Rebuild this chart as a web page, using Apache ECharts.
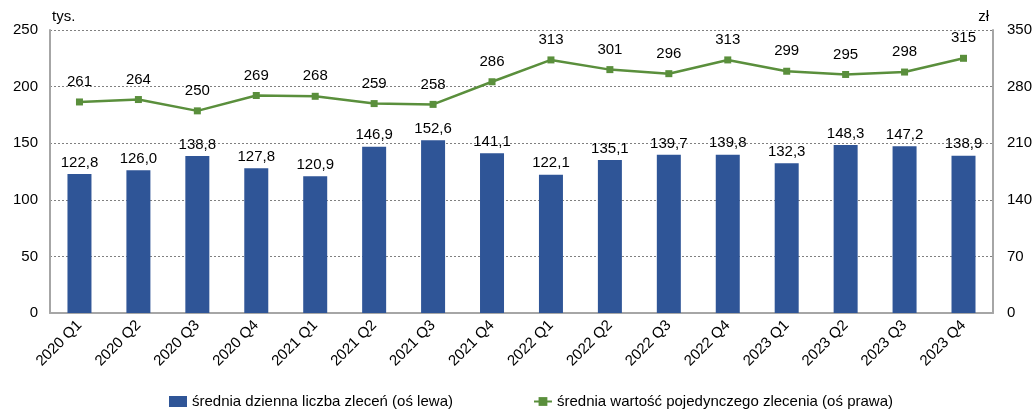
<!DOCTYPE html>
<html lang="pl">
<head>
    <meta charset="UTF-8"/>
    <script src="https://cdn.jsdelivr.net/npm/echarts@6/dist/echarts.min.js"></script>
    <title>Zlecenia</title>
    <style>
        html, body { margin: 0; padding: 0; background: #fff; }
        #chart { width: 1035px; height: 411px; }
    </style>
</head>
<body>
<div id="chart"></div>
<script type="text/javascript">
    var categories = ['2020 Q1', '2020 Q2', '2020 Q3', '2020 Q4', '2021 Q1', '2021 Q2', '2021 Q3', '2021 Q4',
        '2022 Q1', '2022 Q2', '2022 Q3', '2022 Q4', '2023 Q1', '2023 Q2', '2023 Q3', '2023 Q4'];
    var dailyOrders = [122.8, 126.0, 138.8, 127.8, 120.9, 146.9, 152.6, 141.1,
        122.1, 135.1, 139.7, 139.8, 132.3, 148.3, 147.2, 138.9];
    var orderValue = [261, 264, 250, 269, 268, 259, 258, 286, 313, 301, 296, 313, 299, 295, 298, 315];
    var leftTicks = { min: 0, max: 250, interval: 50 };
    var rightTicks = { min: 0, max: 350, interval: 70 };

    var font = 'Liberation Sans, Arial, sans-serif';
    var fs = 15;
    var myChart = echarts.init(document.getElementById('chart'));
    var option = {
        animation: false,
        textStyle: { fontFamily: font },
        grid: { left: 50, right: 42, top: 30, bottom: 98, containLabel: false },
        legend: {
            bottom: -3,
            left: 164,
            itemGap: 80,
            itemWidth: 18,
            itemHeight: 11,
            textStyle: { fontSize: fs, color: '#000', fontFamily: font },
            data: [
                { name: 'średnia dzienna liczba zleceń (oś lewa)', icon: 'rect' },
                { name: 'średnia wartość pojedynczego zlecenia (oś prawa)' }
            ]
        },
        xAxis: {
            type: 'category',
            data: categories,
            axisLine: { lineStyle: { color: '#A6A6A6', width: 2 } },
            axisTick: { show: false },
            axisLabel: { rotate: 45, fontSize: fs, color: '#000', margin: 10, interval: 0 }
        },
        yAxis: [
            {
                type: 'value',
                min: leftTicks.min, max: leftTicks.max, interval: leftTicks.interval,
                name: 'tys.',
                nameGap: 6,
                nameTextStyle: { fontSize: fs, color: '#000', align: 'left', padding: [0, 0, 0, 2] },
                axisLine: { show: true, lineStyle: { color: '#A6A6A6', width: 2 } },
                axisTick: { show: false },
                axisLabel: { fontSize: fs, color: '#000', margin: 12 },
                splitLine: { lineStyle: { color: '#808080', type: [2, 2], width: 1 } }
            },
            {
                type: 'value',
                min: rightTicks.min, max: rightTicks.max, interval: rightTicks.interval,
                name: 'zł',
                nameGap: 6,
                nameTextStyle: { fontSize: fs, color: '#000', align: 'right', padding: [0, 4, 0, 0] },
                axisLine: { show: true, lineStyle: { color: '#A6A6A6', width: 2 } },
                axisTick: { show: false },
                axisLabel: { fontSize: fs, color: '#000', margin: 14 },
                splitLine: { show: false }
            }
        ],
        series: [
            {
                name: 'średnia dzienna liczba zleceń (oś lewa)',
                type: 'bar',
                yAxisIndex: 0,
                data: dailyOrders,
                barWidth: 24,
                itemStyle: { color: '#2F5597' },
                label: {
                    show: true,
                    position: 'top',
                    distance: 4,
                    fontSize: fs,
                    color: '#000',
                    formatter: function (p) { return p.value.toFixed(1).replace('.', ','); }
                }
            },
            {
                name: 'średnia wartość pojedynczego zlecenia (oś prawa)',
                type: 'line',
                yAxisIndex: 1,
                data: orderValue,
                symbol: 'rect',
                symbolSize: 7,
                lineStyle: { color: '#5A8F3C', width: 2.5 },
                itemStyle: { color: '#5A8F3C' },
                label: {
                    show: true,
                    position: 'top',
                    distance: 9,
                    fontSize: fs,
                    color: '#000'
                }
            }
        ]
    };
    myChart.setOption(option);
</script>
</body>
</html>
